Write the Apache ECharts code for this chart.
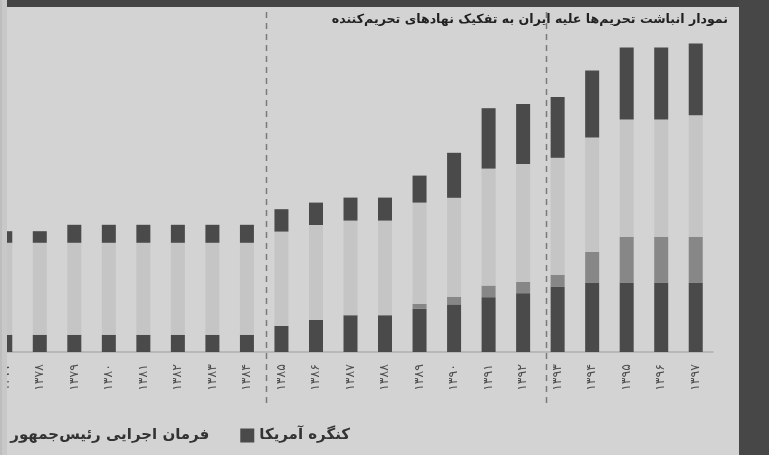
<!DOCTYPE html>
<html>
<head>
<meta charset="utf-8">
<script src="https://cdn.jsdelivr.net/npm/echarts@6/dist/echarts.min.js"></script>
<style>
html,body{margin:0;padding:0;background:#d3d3d3;overflow:hidden;}
/* نمودار اصلی از سمت چپ بریده شده است */
#main{position:absolute;left:-12px;top:0;width:781px;height:455px;}
</style>
</head>
<body>
<div id="main"></div>
<script>
// سال‌ها
var years = ['۱۳۷۷','۱۳۷۸','۱۳۷۹','۱۳۸۰','۱۳۸۱','۱۳۸۲','۱۳۸۳','۱۳۸۴','۱۳۸۵','۱۳۸۶','۱۳۸۷',
             '۱۳۸۸','۱۳۸۹','۱۳۹۰','۱۳۹۱','۱۳۹۲','۱۳۹۳','۱۳۹۴','۱۳۹۵','۱۳۹۶','۱۳۹۷'];
// سری‌ها (از پایین به بالا)
var congress  = [4.3,4.3,4.3,4.3,4.3,4.3,4.3,4.3,6.5,8,9.2,9.2,10.8,11.9,13.7,14.7,16.4,17.4,17.4,17.4,17.4];
var unsc      = [0,0,0,0,0,0,0,0,0,0,0,0,1.25,1.9,2.9,2.8,2.9,7.6,11.4,11.4,11.4];
var executive = [23,23,23,23,23,23,23,23,23.6,23.75,23.65,23.65,25.3,24.75,29.25,29.5,29.25,28.6,29.3,29.3,30.4];
var eu        = [2.9,2.9,4.5,4.5,4.5,4.5,4.5,4.5,5.6,5.6,5.75,5.75,6.75,11.25,15.1,15,15.2,16.8,18,18,17.9];

var names = ['کنگره آمریکا','شورای امنیت سازمان ملل','فرمان اجرایی رئیس‌جمهور آمریکا','اتحادیه اروپا'];
var legendOrder = ['اتحادیه اروپا','شورای امنیت سازمان ملل','فرمان اجرایی رئیس‌جمهور آمریکا','کنگره آمریکا'];
// مرز دوره‌ها (بعد از ۱۳۸۴ و بعد از ۱۳۹۲)
var dividerAfter = ['۱۳۸۴','۱۳۹۲'];
var dividerFrac = [0.55, 0.66];

var shift = 12;   // مقدار برش از چپ
var myChart = echarts.init(document.getElementById('main'));
var fa = '"DejaVu Sans", sans-serif';

function barSeries(name, data, color){
    return {
        name: name,
        type: 'bar',
        stack: 'all',
        barWidth: 14,
        data: data,
        itemStyle: { color: color },
        emphasis: { disabled: true }
    };
}

var option = {
    animation: false,
    backgroundColor: '#d3d3d3',
    title: {
        text: 'نمودار انباشت تحریم‌ها علیه ایران به تفکیک نهادهای تحریم‌کننده',
        right: 41,
        top: 13,
        padding: 0,
        textStyle: { fontFamily: fa, fontSize: 12.6, fontWeight: 'bold', color: '#222' }
    },
    legend: {
        data: legendOrder,
        right: 419,
        width: 2000,
        top: 428,
        padding: 0,
        itemGap: 31,
        itemWidth: 14,
        itemHeight: 14,
        itemStyle: { borderWidth: 0 },
        icon: 'rect',
        textStyle: { fontFamily: fa, fontSize: 15, fontWeight: 'bold', color: '#333' }
    },
    grid: { left: 0, right: 56, top: 40, bottom: 103, containLabel: false },
    xAxis: {
        type: 'category',
        data: years,
        axisLine: { lineStyle: { color: '#b0b0b0', width: 1.5 } },
        axisTick: { show: false },
        axisLabel: { rotate: 90, margin: 12, fontFamily: fa, fontSize: 12.5, color: '#4d4d4d', interval: 0 }
    },
    yAxis: {
        type: 'value',
        min: 0,
        max: 78,
        show: false,
        splitLine: { show: false }
    },
    series: [
        barSeries(names[0], congress, '#4a4a4a'),
        barSeries(names[1], unsc, '#878787'),
        barSeries(names[2], executive, '#c5c5c5'),
        barSeries(names[3], eu, '#4a4a4a')
    ]
};
myChart.setOption(option);

// قاب تصویر و خطوط جداکننده
var g = [
    { type: 'rect', z: 100, shape: { x: shift + 7, y: 0, width: 762, height: 7 }, style: { fill: '#454545' } },
    { type: 'rect', z: 100, shape: { x: shift + 739, y: 0, width: 30, height: 455 }, style: { fill: '#474747' } },
    { type: 'rect', z: 100, shape: { x: shift, y: 0, width: 7, height: 455 }, style: { fill: '#c8c8c8' } },
    { type: 'rect', z: 100, shape: { x: shift, y: 0, width: 2, height: 455 }, style: { fill: '#bdbdbd' } }
];
for (var i = 0; i < dividerAfter.length; i++) {
    var idx = years.indexOf(dividerAfter[i]);
    var a = myChart.convertToPixel({ xAxisIndex: 0 }, years[idx]);
    var b = myChart.convertToPixel({ xAxisIndex: 0 }, years[idx + 1]);
    var x = Math.round(a + (b - a) * dividerFrac[i]) + 0.5;
    g.push({
        type: 'line', z: 50,
        shape: { x1: x, y1: 12, x2: x, y2: 403 },
        style: { stroke: '#7a7a7a', lineWidth: 1.5, lineDash: [6, 5] }
    });
}
myChart.setOption({ graphic: g });
</script>
</body>
</html>
